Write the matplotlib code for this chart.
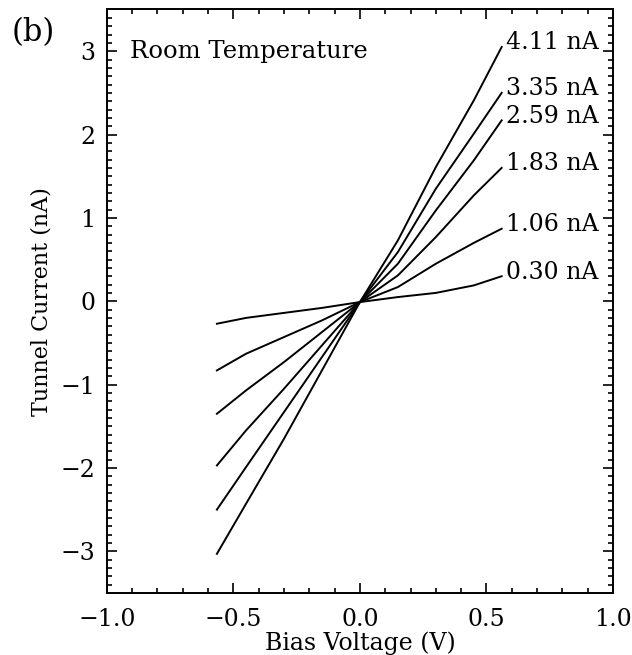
import matplotlib
matplotlib.use('Agg')
import matplotlib.pyplot as plt
from matplotlib.ticker import MultipleLocator

# bias voltage sample points (V)
bias = [-0.565, -0.45, -0.30, -0.15, 0.0, 0.15, 0.30, 0.45, 0.56]

# tunnel current (nA) for each setpoint curve
i_030 = [-0.27, -0.20, -0.14, -0.08, -0.01, 0.05, 0.10, 0.19, 0.30]
i_106 = [-0.83, -0.63, -0.43, -0.23, -0.01, 0.17, 0.45, 0.70, 0.87]
i_183 = [-1.35, -1.07, -0.73, -0.37, -0.01, 0.31, 0.77, 1.27, 1.60]
i_259 = [-1.97, -1.55, -1.05, -0.53, -0.01, 0.45, 1.09, 1.69, 2.17]
i_335 = [-2.50, -1.99, -1.33, -0.67, -0.01, 0.59, 1.35, 2.01, 2.50]
i_411 = [-3.03, -2.43, -1.65, -0.83, -0.01, 0.73, 1.61, 2.41, 3.05]

curves = [i_030, i_106, i_183, i_259, i_335, i_411]
labels = ['0.30 nA', '1.06 nA', '1.83 nA', '2.59 nA', '3.35 nA', '4.11 nA']

plt.rcParams['font.family'] = ['DejaVu Serif']
plt.rcParams['axes.unicode_minus'] = True

fig = plt.figure(figsize=(6.32, 6.55), dpi=100)
ax = fig.add_axes([0.169, 0.0947, 0.801, 0.8908])

for cur, lab in zip(curves, labels):
    ax.plot(bias, cur, color='black', lw=1.4)
    ax.annotate(lab, xy=(bias[-1], cur[-1]), xytext=(3, 3),
                textcoords='offset points', va='center', ha='left',
                fontsize=17)

ax.text(-0.91, 3.0, 'Room Temperature', fontsize=17.5, va='center', ha='left')
fig.text(0.052, 0.951, '(b)', fontsize=22, va='center', ha='center')

ax.set_xlim(-1.0, 1.0)
ax.set_ylim(-3.5, 3.5)
ax.xaxis.set_major_locator(MultipleLocator(0.5))
ax.xaxis.set_minor_locator(MultipleLocator(0.1))
ax.yaxis.set_major_locator(MultipleLocator(1))
ax.yaxis.set_minor_locator(MultipleLocator(0.1))
ax.tick_params(which='both', direction='in', top=True, right=True,
               labelsize=17, width=1.2)
ax.tick_params(which='major', length=7, pad=8)
ax.tick_params(axis='x', which='major', pad=11)
ax.tick_params(which='minor', length=3.5)
for sp in ax.spines.values():
    sp.set_linewidth(1.4)

ax.set_xlabel('Bias Voltage (V)', fontsize=17, labelpad=0)
ax.set_ylabel('Tunnel Current (nA)', fontsize=16, labelpad=6)

fig.savefig('out.png', dpi=100)
